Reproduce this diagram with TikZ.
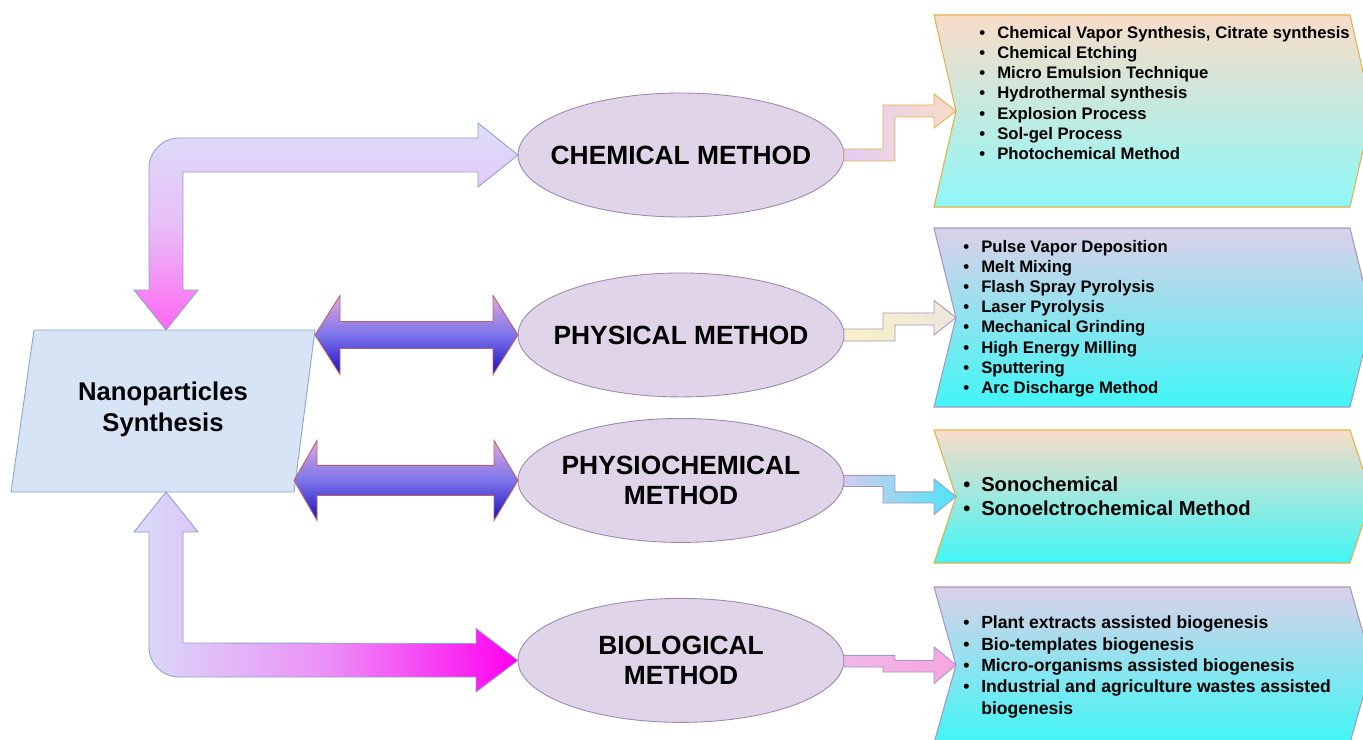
\documentclass[tikz,border=0pt]{standalone}
\usepackage{fontspec}
\setmainfont{Liberation Sans}
\usetikzlibrary{positioning}
\usetikzlibrary{shapes.geometric}
\definecolor{synthblue}{HTML}{D6E4F6}
\definecolor{synthedge}{HTML}{8AA6C8}
\definecolor{lilac}{HTML}{E0D4E9}
\definecolor{lilacedge}{HTML}{9C88B2}
\definecolor{paleblue}{HTML}{DCDEF8}
\definecolor{paleviolet}{HTML}{E8BEF8}
\definecolor{hotpink}{HTML}{FF66F2}
\definecolor{palelav}{HTML}{D8DEF8}
\definecolor{midpink}{HTML}{EC90F6}
\definecolor{vivid}{HTML}{FF00F0}
\definecolor{bentedge}{HTML}{8EA2CC}
\definecolor{dbltop}{HTML}{DCA8DC}
\definecolor{dblmid}{HTML}{7C74EA}
\definecolor{dblbot}{HTML}{1A0CC0}
\definecolor{dbledge}{HTML}{B8606E}
\definecolor{peach}{HTML}{F9DCC8}
\definecolor{mint}{HTML}{8EF8F8}
\definecolor{aqua}{HTML}{40F6F6}
\definecolor{lavtop}{HTML}{DCD0E8}
\definecolor{goldedge}{HTML}{E2B24A}
\definecolor{lavedge}{HTML}{A496C6}
\newcommand{\itm}{\makebox[10.2pt][l]{\textbullet}}

\begin{document}
\begin{tikzpicture}[
  x=0.02cm, y=-0.02cm,
  synthbox/.style={draw=synthedge, fill=synthblue, line width=0.5pt},
  synthtext/.style={align=center, inner sep=0pt,
    font=\fontsize{14.6}{17.6}\selectfont\bfseries},
  method/.style={ellipse, draw=lilacedge, fill=lilac, line width=0.5pt,
    minimum width=6.52cm, minimum height=2.48cm,
    inner xsep=-10pt, inner ysep=0pt, outer sep=0pt,
    align=center, font=\fontsize{15}{17}\selectfont\bfseries},
  bentarrow/.style={draw=bentedge, line width=0.5pt},
  dblarrow/.style={draw=dbledge, line width=0.5pt,
    top color=dbltop, bottom color=dblbot, middle color=dblmid},
  warmbox/.style={draw=goldedge, line width=0.6pt, top color=peach},
  coolbox/.style={draw=lavedge, line width=0.6pt, top color=lavtop},
  steparrow/.style={line width=0.5pt},
  list/.style={anchor=west, align=left, inner sep=0pt,
    font=\fontsize{9.5}{11.5}\selectfont\bfseries},
]
\useasboundingbox (0,0) rectangle (1363,740);

% === Centre and methods ===
\path[synthbox] (34,330) -- (315,330) -- (294,492) -- (11,492) -- cycle;
\coordinate (synthtop) at (166,330);
\coordinate (synthbot) at (166,492);
\node[synthtext] (synth) at (163,409) {Nanoparticles\\Synthesis};

\node[method] (chem) at (681,155) {CHEMICAL METHOD};
\node[method, below=1.12cm of chem] (phys) {PHYSICAL METHOD};
\node[method, below=0.43cm of phys] (physchem) {PHYSIOCHEMICAL\\METHOD};
\node[method, below=1.12cm of physchem] (bio) {BIOLOGICAL\\METHOD};

% === Technique boxes ===
\path[warmbox, bottom color=mint] (934,15) -- (1350,15) -- (1372,111)
  -- (1350,207) -- (934,207) -- (956,111) -- cycle;
\coordinate (chemin) at (956,111);
\node[list] (chemlist) at (979,93) {%
  \itm Chemical Vapor Synthesis, Citrate synthesis\\
  \itm Chemical Etching\\
  \itm Micro Emulsion Technique\\
  \itm Hydrothermal synthesis\\
  \itm Explosion Process\\
  \itm Sol-gel Process\\
  \itm Photochemical Method};

\path[coolbox, bottom color=aqua] (934,228) -- (1350,228) -- (1372,317.5)
  -- (1350,407) -- (934,407) -- (956,317.5) -- cycle;
\coordinate (physin) at (956,317.5);
\node[list] (physlist) at (963,318.5) {%
  \itm Pulse Vapor Deposition\\
  \itm Melt Mixing\\
  \itm Flash Spray Pyrolysis\\
  \itm Laser Pyrolysis\\
  \itm Mechanical Grinding\\
  \itm High Energy Milling\\
  \itm Sputtering\\
  \itm Arc Discharge Method};

\path[warmbox, bottom color=aqua] (934,430) -- (1350,430) -- (1372,496.5)
  -- (1350,563) -- (934,563) -- (956,496.5) -- cycle;
\coordinate (physchemin) at (956,496.5);
\node[list, font=\fontsize{11.5}{13.7}\selectfont\bfseries]
  (physchemlist) at (963,496) {%
  \itm Sonochemical\\
  \itm Sonoelctrochemical Method};

\path[coolbox, bottom color=aqua] (934,587) -- (1350,587) -- (1372,665)
  -- (1350,743) -- (934,743) -- (956,665) -- cycle;
\coordinate (bioin) at (956,665);
\node[list, font=\fontsize{10}{12.1}\selectfont\bfseries]
  (biolist) at (963,667) {%
  \itm Plant extracts assisted biogenesis\\
  \itm Bio-templates biogenesis\\
  \itm Micro-organisms assisted biogenesis\\
  \itm Industrial and agriculture wastes assisted\\
  \hspace*{10.2pt}biogenesis};

% === Bent arrows ===
\path[bentarrow, top color=paleblue, bottom color=hotpink, middle color=paleviolet]
  (chem.west) -- ++(-40,-32) -- ++(0,15) -- (179,138)
  .. controls (162.4,138) and (149,151.6) .. (149,168)
  -- (149,290) -- (134,290) -- (synthtop)
  -- (198,290) -- (183,290) -- (183,172) -- (478,172) -- (478,187) -- cycle;

\path[bentarrow, left color=palelav, right color=vivid, middle color=midpink]
  (bio.west) -- ++(-42,-32) -- ++(0,15) -- (183,643)
  -- (183,532) -- (198,532) -- (synthbot)
  -- (134,532) -- (149,532) -- (149,647)
  .. controls (149,663.6) and (162.4,677) .. (179,677)
  -- (476,677) -- (476,692) -- cycle;

% === Double arrows ===
\path[dblarrow] (phys.west) -- ++(-25,-39.5) -- ++(0,26) -- ++(-153,0)
  -- ++(0,-26) -- ++(-25,39.5) -- ++(25,39.5) -- ++(0,-26) -- ++(153,0)
  -- ++(0,26) -- cycle;
\path[dblarrow] (physchem.west) -- ++(-24,-40) -- ++(0,25) -- ++(-177,0)
  -- ++(0,-25) -- ++(-23,40) -- ++(23,40) -- ++(0,-25) -- ++(177,0)
  -- ++(0,25) -- cycle;

% === Step arrows ===
\path[steparrow, draw=goldedge, left color={rgb,255:red,228;green,204;blue,244},
    right color=peach]
  (chem.east) -- ++(0,-6) -- ++(39,0) -- ++(0,-44) -- ++(51,0) -- ++(0,-11)
  -- (chemin) -- ++(-22,17) -- ++(0,-11) -- ++(-39,0) -- ++(0,44)
  -- ++(-51,0) -- cycle;
\path[steparrow, draw=lavedge, left color={rgb,255:red,248;green,242;blue,200},
    right color={rgb,255:red,238;green,230;blue,220}]
  (phys.east) -- ++(0,-6) -- ++(39,0) -- ++(0,-16) -- ++(51,0) -- ++(0,-12.5)
  -- (physin) -- ++(-22,17.5) -- ++(0,-10) -- ++(-39,0) -- ++(0,16)
  -- ++(-51,0) -- cycle;
\path[steparrow, draw=lavedge, left color={rgb,255:red,212;green,204;blue,236},
    right color={rgb,255:red,76;green,228;blue,248}]
  (physchem.east) -- ++(0,-5) -- ++(51,0) -- ++(0,16.5) -- ++(39,0)
  -- ++(0,-13) -- (physchemin) -- ++(-22,18) -- ++(0,-11.5) -- ++(-51,0)
  -- ++(0,-16.5) -- ++(-39,0) -- cycle;
\path[steparrow, draw=lavedge, left color={rgb,255:red,240;green,184;blue,230},
    right color={rgb,255:red,248;green,164;blue,224}]
  (bio.east) -- ++(0,-5) -- ++(51,0) -- ++(0,5) -- ++(39,0) -- ++(0,-13.5)
  -- (bioin) -- ++(-22,18.5) -- ++(0,-11.5) -- ++(-51,0) -- ++(0,-5)
  -- ++(-39,0) -- cycle;

\end{tikzpicture}
\end{document}
